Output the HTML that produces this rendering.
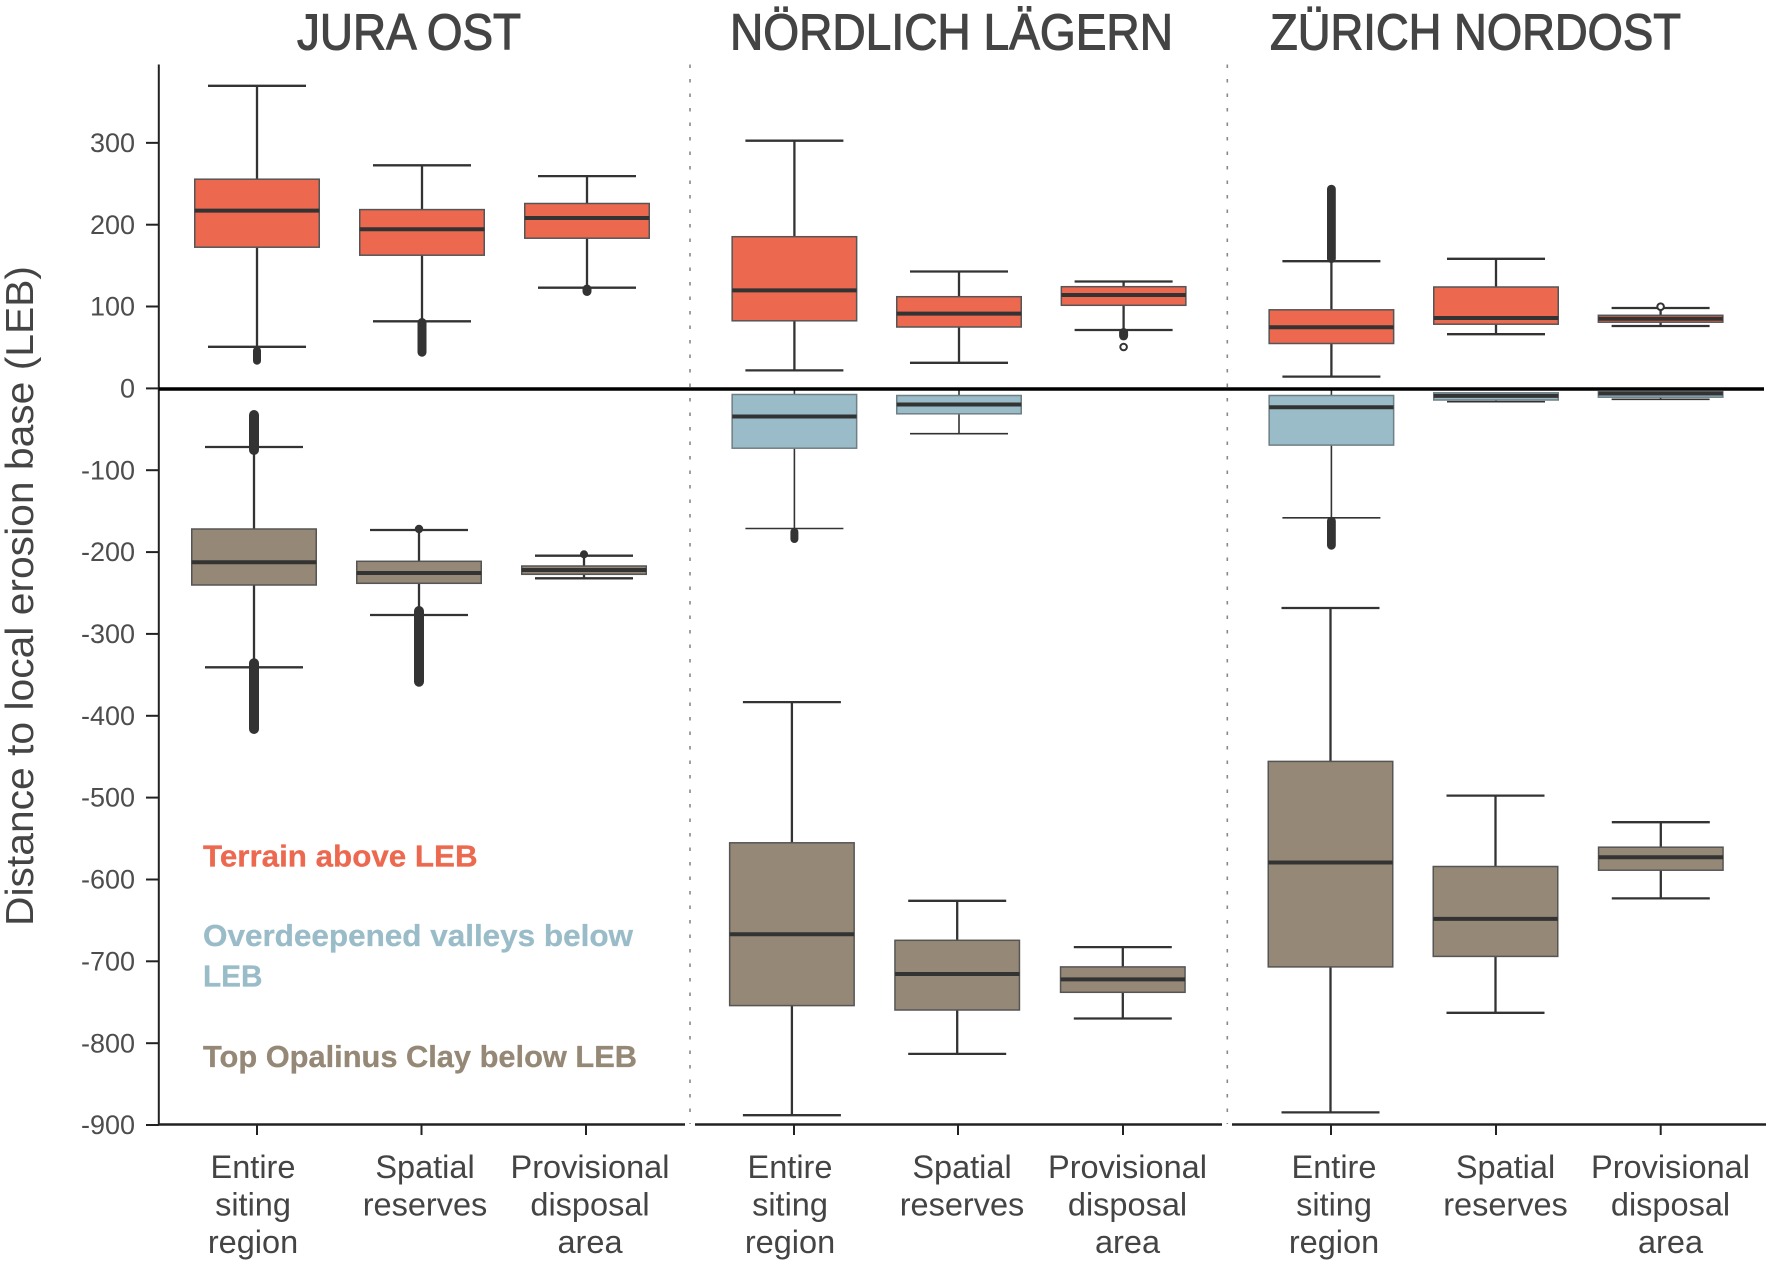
<!DOCTYPE html>
<html><head><meta charset="utf-8"><style>
html,body{margin:0;padding:0;background:#fff;}
svg{display:block;}
text{font-family:"Liberation Sans",sans-serif;}
</style></head><body>
<svg width="1772" height="1264" viewBox="0 0 1772 1264" xmlns="http://www.w3.org/2000/svg">
<rect width="1772" height="1264" fill="#fff"/>

<!-- Titles -->
<g fill="#444" stroke="#444" stroke-width="1.1" font-size="51">
<text x="297" y="49.5" textLength="224" lengthAdjust="spacingAndGlyphs">JURA OST</text>
<text x="730" y="49.5" textLength="443" lengthAdjust="spacingAndGlyphs">NÖRDLICH LÄGERN</text>
<text x="1270" y="49.5" textLength="411" lengthAdjust="spacingAndGlyphs">ZÜRICH NORDOST</text>
</g>

<!-- Y axis label -->
<text transform="translate(33,596) rotate(-90)" text-anchor="middle" font-size="39" fill="#444" textLength="660" lengthAdjust="spacingAndGlyphs">Distance to local erosion base (LEB)</text>

<!-- dotted separators -->
<g stroke="#888" stroke-width="1.6" stroke-dasharray="3.5 11">
<line x1="690" y1="64.5" x2="690" y2="1124"/>
<line x1="1227.3" y1="64.5" x2="1227.3" y2="1124"/>
</g>

<!-- Y axis -->
<g stroke="#222" stroke-width="2">
<line x1="158.8" y1="64.5" x2="158.8" y2="1125.5"/>
<line x1="146" y1="142.85" x2="158.8" y2="142.85"/>
<line x1="146" y1="224.7" x2="158.8" y2="224.7"/>
<line x1="146" y1="306.5" x2="158.8" y2="306.5"/>
<line x1="146" y1="388.4" x2="158.8" y2="388.4"/>
<line x1="146" y1="470.2" x2="158.8" y2="470.2"/>
<line x1="146" y1="552.1" x2="158.8" y2="552.1"/>
<line x1="146" y1="633.9" x2="158.8" y2="633.9"/>
<line x1="146" y1="715.8" x2="158.8" y2="715.8"/>
<line x1="146" y1="797.6" x2="158.8" y2="797.6"/>
<line x1="146" y1="879.5" x2="158.8" y2="879.5"/>
<line x1="146" y1="961.3" x2="158.8" y2="961.3"/>
<line x1="146" y1="1043.2" x2="158.8" y2="1043.2"/>
<line x1="146" y1="1125" x2="158.8" y2="1125"/>
</g>
<g font-size="27" fill="#4d4d4d" text-anchor="end">
<text x="135" y="152">300</text>
<text x="135" y="233.8">200</text>
<text x="135" y="315.6">100</text>
<text x="135" y="397.5">0</text>
<text x="135" y="479.3">-100</text>
<text x="135" y="561.2">-200</text>
<text x="135" y="643">-300</text>
<text x="135" y="724.9">-400</text>
<text x="135" y="806.7">-500</text>
<text x="135" y="888.6">-600</text>
<text x="135" y="970.4">-700</text>
<text x="135" y="1052.3">-800</text>
<text x="135" y="1134.1">-900</text>
</g>

<!-- Bottom axes -->
<g stroke="#222" stroke-width="2.5">
<line x1="158" y1="1124.5" x2="685" y2="1124.5"/>
<line x1="695" y1="1124.5" x2="1222" y2="1124.5"/>
<line x1="1232" y1="1124.5" x2="1766" y2="1124.5"/>
</g>
<g stroke="#222" stroke-width="2">
<line x1="257" y1="1124.5" x2="257" y2="1135"/>
<line x1="421.5" y1="1124.5" x2="421.5" y2="1135"/>
<line x1="586" y1="1124.5" x2="586" y2="1135"/>
<line x1="794" y1="1124.5" x2="794" y2="1135"/>
<line x1="958" y1="1124.5" x2="958" y2="1135"/>
<line x1="1123" y1="1124.5" x2="1123" y2="1135"/>
<line x1="1331" y1="1124.5" x2="1331" y2="1135"/>
<line x1="1496" y1="1124.5" x2="1496" y2="1135"/>
<line x1="1660.7" y1="1124.5" x2="1660.7" y2="1135"/>
</g>

<!-- Category labels -->
<g font-size="32.5" fill="#444" text-anchor="middle">
<text x="253" y="1178">Entire</text><text x="253" y="1215.5">siting</text><text x="253" y="1253">region</text>
<text x="425" y="1178">Spatial</text><text x="425" y="1215.5">reserves</text>
<text x="590" y="1178">Provisional</text><text x="590" y="1215.5">disposal</text><text x="590" y="1253">area</text>
<text x="790" y="1178">Entire</text><text x="790" y="1215.5">siting</text><text x="790" y="1253">region</text>
<text x="962" y="1178">Spatial</text><text x="962" y="1215.5">reserves</text>
<text x="1127.5" y="1178">Provisional</text><text x="1127.5" y="1215.5">disposal</text><text x="1127.5" y="1253">area</text>
<text x="1334" y="1178">Entire</text><text x="1334" y="1215.5">siting</text><text x="1334" y="1253">region</text>
<text x="1505.5" y="1178">Spatial</text><text x="1505.5" y="1215.5">reserves</text>
<text x="1670.5" y="1178">Provisional</text><text x="1670.5" y="1215.5">disposal</text><text x="1670.5" y="1253">area</text>
</g>

<!-- Legend -->
<g font-size="31" font-weight="bold">
<text x="203" y="866.5" fill="#EC6950" stroke="#EC6950" stroke-width="0.3" textLength="274.6" lengthAdjust="spacingAndGlyphs">Terrain above LEB</text>
<text x="203" y="946" fill="#99BCC8" stroke="#99BCC8" stroke-width="0.3" textLength="430" lengthAdjust="spacingAndGlyphs">Overdeepened valleys below</text>
<text x="203" y="986.6" fill="#99BCC8" stroke="#99BCC8" stroke-width="0.3" textLength="59.5" lengthAdjust="spacingAndGlyphs">LEB</text>
<text x="203" y="1067" fill="#958876" stroke="#958876" stroke-width="0.3" textLength="434" lengthAdjust="spacingAndGlyphs">Top Opalinus Clay below LEB</text>
</g>

<!-- Whiskers -->
<g stroke="#333" stroke-width="2.3" fill="none">
<!-- JO red -->
<line x1="257" y1="85.8" x2="257" y2="179.2"/><line x1="257" y1="247.2" x2="257" y2="346.8"/>
<line x1="208" y1="85.8" x2="306" y2="85.8"/><line x1="208" y1="346.8" x2="306" y2="346.8"/>
<line x1="422" y1="165.3" x2="422" y2="209.6"/><line x1="422" y1="255.2" x2="422" y2="321.3"/>
<line x1="373" y1="165.3" x2="471" y2="165.3"/><line x1="373" y1="321.3" x2="471" y2="321.3"/>
<line x1="587" y1="176.1" x2="587" y2="203.5"/><line x1="587" y1="238.2" x2="587" y2="287.7"/>
<line x1="538" y1="176.1" x2="636" y2="176.1"/><line x1="538" y1="287.7" x2="636" y2="287.7"/>
<!-- JO beige -->
<line x1="254" y1="447" x2="254" y2="529"/><line x1="254" y1="585" x2="254" y2="667.3"/>
<line x1="205" y1="447" x2="303" y2="447"/><line x1="205" y1="667.3" x2="303" y2="667.3"/>
<line x1="419" y1="530" x2="419" y2="561.3"/><line x1="419" y1="583.3" x2="419" y2="615"/>
<line x1="370" y1="530" x2="468" y2="530"/><line x1="370" y1="615" x2="468" y2="615"/>
<line x1="584" y1="555.7" x2="584" y2="566"/><line x1="584" y1="574.3" x2="584" y2="578.3"/>
<line x1="535" y1="555.7" x2="633" y2="555.7"/><line x1="535" y1="578.3" x2="633" y2="578.3"/>
<!-- NL red -->
<line x1="794.4" y1="140.7" x2="794.4" y2="236.7"/><line x1="794.4" y1="320.8" x2="794.4" y2="370.4"/>
<line x1="745.4" y1="140.7" x2="843.4" y2="140.7"/><line x1="745.4" y1="370.4" x2="843.4" y2="370.4"/>
<line x1="959" y1="271.5" x2="959" y2="296.7"/><line x1="959" y1="327" x2="959" y2="362.8"/>
<line x1="910" y1="271.5" x2="1008" y2="271.5"/><line x1="910" y1="362.8" x2="1008" y2="362.8"/>
<line x1="1123.6" y1="281.5" x2="1123.6" y2="286.7"/><line x1="1123.6" y1="305.3" x2="1123.6" y2="330"/>
<line x1="1074.6" y1="281.5" x2="1172.6" y2="281.5"/><line x1="1074.6" y1="330" x2="1172.6" y2="330"/>
<!-- NL beige -->
<line x1="791.9" y1="702.1" x2="791.9" y2="842.8"/><line x1="791.9" y1="1005.6" x2="791.9" y2="1115.2"/>
<line x1="742.9" y1="702.1" x2="840.9" y2="702.1"/><line x1="742.9" y1="1115.2" x2="840.9" y2="1115.2"/>
<line x1="957.2" y1="900.8" x2="957.2" y2="940.3"/><line x1="957.2" y1="1010" x2="957.2" y2="1053.9"/>
<line x1="908.2" y1="900.8" x2="1006.2" y2="900.8"/><line x1="908.2" y1="1053.9" x2="1006.2" y2="1053.9"/>
<line x1="1122.8" y1="947.1" x2="1122.8" y2="966.9"/><line x1="1122.8" y1="992.3" x2="1122.8" y2="1018.5"/>
<line x1="1073.8" y1="947.1" x2="1171.8" y2="947.1"/><line x1="1073.8" y1="1018.5" x2="1171.8" y2="1018.5"/>
<!-- ZN red -->
<line x1="1331.4" y1="261.2" x2="1331.4" y2="309.8"/><line x1="1331.4" y1="343.5" x2="1331.4" y2="376.6"/>
<line x1="1282.4" y1="261.2" x2="1380.4" y2="261.2"/><line x1="1282.4" y1="376.6" x2="1380.4" y2="376.6"/>
<line x1="1496" y1="258.8" x2="1496" y2="287"/><line x1="1496" y1="324.2" x2="1496" y2="334.2"/>
<line x1="1447" y1="258.8" x2="1545" y2="258.8"/><line x1="1447" y1="334.2" x2="1545" y2="334.2"/>
<line x1="1660.6" y1="308" x2="1660.6" y2="315.3"/><line x1="1660.6" y1="322.2" x2="1660.6" y2="326"/>
<line x1="1611.6" y1="308" x2="1709.6" y2="308"/><line x1="1611.6" y1="326" x2="1709.6" y2="326"/>
<!-- ZN beige -->
<line x1="1330.5" y1="608" x2="1330.5" y2="761.4"/><line x1="1330.5" y1="966.9" x2="1330.5" y2="1112.4"/>
<line x1="1281.5" y1="608" x2="1379.5" y2="608"/><line x1="1281.5" y1="1112.4" x2="1379.5" y2="1112.4"/>
<line x1="1495.5" y1="795.6" x2="1495.5" y2="866.5"/><line x1="1495.5" y1="956.4" x2="1495.5" y2="1012.8"/>
<line x1="1446.5" y1="795.6" x2="1544.5" y2="795.6"/><line x1="1446.5" y1="1012.8" x2="1544.5" y2="1012.8"/>
<line x1="1660.8" y1="822.2" x2="1660.8" y2="847.2"/><line x1="1660.8" y1="870.2" x2="1660.8" y2="898.4"/>
<line x1="1611.8" y1="822.2" x2="1709.8" y2="822.2"/><line x1="1611.8" y1="898.4" x2="1709.8" y2="898.4"/>
</g>
<!-- blue whiskers (thinner) -->
<g stroke="#333" stroke-width="1.6" fill="none">
<line x1="794.4" y1="389" x2="794.4" y2="394.5"/><line x1="794.4" y1="448.2" x2="794.4" y2="528.5"/>
<line x1="745.4" y1="528.5" x2="843.4" y2="528.5"/>
<line x1="959" y1="389" x2="959" y2="395.5"/><line x1="959" y1="413.8" x2="959" y2="433.7"/>
<line x1="910" y1="433.7" x2="1008" y2="433.7"/>
<line x1="1331.4" y1="389" x2="1331.4" y2="395.5"/><line x1="1331.4" y1="445.1" x2="1331.4" y2="517.8"/>
<line x1="1282.4" y1="517.8" x2="1380.4" y2="517.8"/>
<line x1="1496" y1="400" x2="1496" y2="401.7"/>
<line x1="1447" y1="401.7" x2="1545" y2="401.7"/>
<line x1="1660.6" y1="397.2" x2="1660.6" y2="399.3"/>
<line x1="1611.6" y1="399.3" x2="1709.6" y2="399.3"/>
</g>

<!-- Boxes -->
<g stroke="#555" stroke-width="1.5">
<g fill="#EC6950">
<rect x="194.75" y="179.2" width="124.5" height="68"/>
<rect x="359.75" y="209.6" width="124.5" height="45.6"/>
<rect x="524.75" y="203.5" width="124.5" height="34.7"/>
<rect x="732.15" y="236.7" width="124.5" height="84.1"/>
<rect x="896.75" y="296.7" width="124.5" height="30.3"/>
<rect x="1061.35" y="286.7" width="124.5" height="18.6"/>
<rect x="1269.15" y="309.8" width="124.5" height="33.7"/>
<rect x="1433.75" y="287" width="124.5" height="37.2"/>
<rect x="1598.35" y="315.3" width="124.5" height="6.9"/>
</g>
<g fill="#99BCC8" stroke="#6f7f86">
<rect x="732.15" y="394.5" width="124.5" height="53.7"/>
<rect x="896.75" y="395.5" width="124.5" height="18.3"/>
<rect x="1269.15" y="395.5" width="124.5" height="49.6"/>
<rect x="1433.75" y="392.8" width="124.5" height="7.2"/>
<rect x="1598.35" y="391.7" width="124.5" height="5.5"/>
</g>
<g fill="#958876">
<rect x="191.75" y="529" width="124.5" height="56"/>
<rect x="356.75" y="561.3" width="124.5" height="22"/>
<rect x="521.75" y="566" width="124.5" height="8.3"/>
<rect x="729.65" y="842.8" width="124.5" height="162.8"/>
<rect x="894.95" y="940.3" width="124.5" height="69.7"/>
<rect x="1060.55" y="966.9" width="124.5" height="25.4"/>
<rect x="1268.25" y="761.4" width="124.5" height="205.5"/>
<rect x="1433.25" y="866.5" width="124.5" height="89.9"/>
<rect x="1598.55" y="847.2" width="124.5" height="23"/>
</g>
</g>

<!-- Medians -->
<g stroke="#333" stroke-width="4">
<line x1="194.75" y1="210.6" x2="319.25" y2="210.6"/>
<line x1="359.75" y1="229.3" x2="484.25" y2="229.3"/>
<line x1="524.75" y1="218" x2="649.25" y2="218"/>
<line x1="191.75" y1="562.3" x2="316.25" y2="562.3"/>
<line x1="356.75" y1="573" x2="481.25" y2="573"/>
<line x1="521.75" y1="570" x2="646.25" y2="570"/>
<line x1="732.15" y1="290.4" x2="856.65" y2="290.4"/>
<line x1="896.75" y1="313.6" x2="1021.25" y2="313.6"/>
<line x1="1061.35" y1="295" x2="1185.85" y2="295"/>
<line x1="732.15" y1="416.5" x2="856.65" y2="416.5"/>
<line x1="896.75" y1="404.5" x2="1021.25" y2="404.5"/>
<line x1="729.65" y1="934.3" x2="854.15" y2="934.3"/>
<line x1="894.95" y1="974" x2="1019.45" y2="974"/>
<line x1="1060.55" y1="979.4" x2="1185.05" y2="979.4"/>
<line x1="1269.15" y1="327.3" x2="1393.65" y2="327.3"/>
<line x1="1433.75" y1="318" x2="1558.25" y2="318"/>
<line x1="1598.35" y1="318.7" x2="1722.85" y2="318.7"/>
<line x1="1269.15" y1="407.2" x2="1393.65" y2="407.2"/>
<line x1="1433.75" y1="395.9" x2="1558.25" y2="395.9"/>
<line x1="1598.35" y1="393.5" x2="1722.85" y2="393.5"/>
<line x1="1268.25" y1="862.5" x2="1392.75" y2="862.5"/>
<line x1="1433.25" y1="918.9" x2="1557.75" y2="918.9"/>
<line x1="1598.55" y1="857.3" x2="1723.05" y2="857.3"/>
</g>

<!-- Outliers -->
<g fill="#333">
<rect x="253" y="346.6" width="8" height="18.1" rx="4"/>
<rect x="417.5" y="318" width="9" height="38.7" rx="4.5"/>
<rect x="582.5" y="284.5" width="9" height="11.5" rx="4.5"/>
<rect x="249" y="410" width="10" height="45" rx="5"/>
<rect x="249" y="658.3" width="10" height="75.7" rx="5"/>
<circle cx="419" cy="529" r="4.2"/>
<rect x="414" y="606" width="10" height="80.7" rx="5"/>
<circle cx="584" cy="554.3" r="4"/>
<rect x="1119.1" y="328" width="9" height="12.4" rx="4.5"/>
<rect x="790.4" y="528" width="8" height="15" rx="4"/>
<rect x="1327" y="184.7" width="8.8" height="78.3" rx="4.4"/>
<rect x="1327" y="516.7" width="8.8" height="33" rx="4.4"/>
</g>
<g fill="#fff" stroke="#333" stroke-width="2">
<circle cx="1123.6" cy="347" r="3.3"/>
<circle cx="1660.6" cy="306.7" r="3.3"/>
</g>

<!-- Zero line -->
<line x1="158.8" y1="389" x2="1764" y2="389" stroke="#000" stroke-width="3.5"/>
</svg>
</body></html>
